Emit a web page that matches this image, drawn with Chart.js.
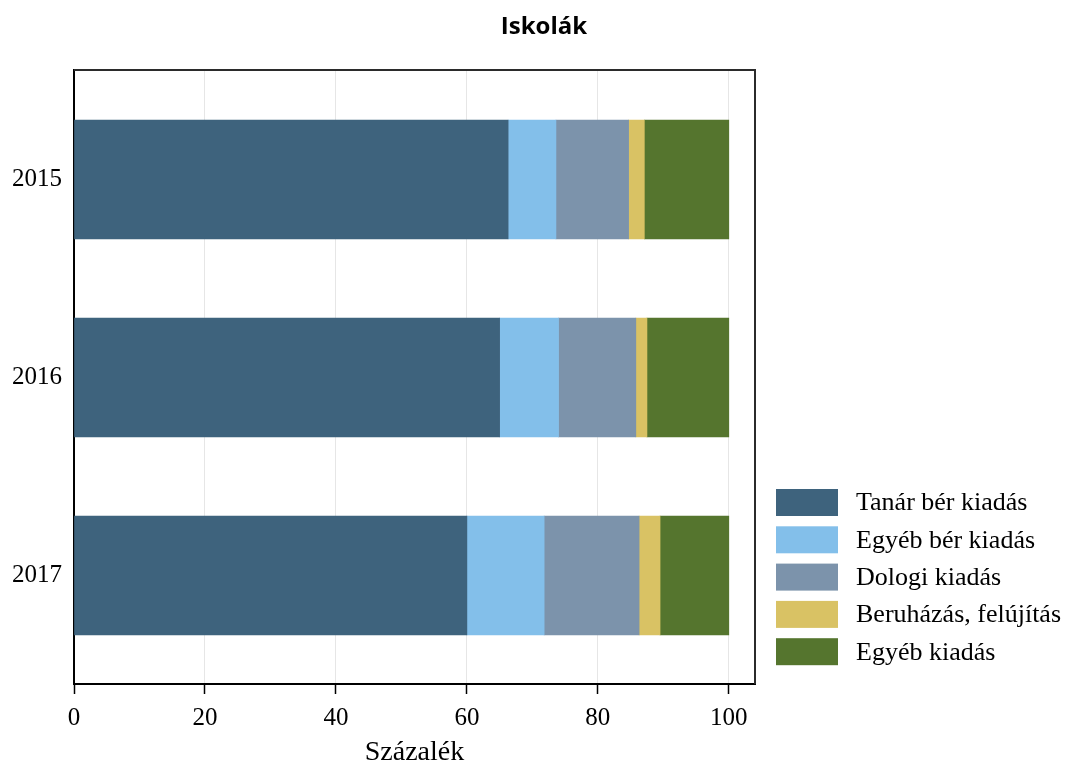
<!DOCTYPE html>
<html lang="hu">
<head>
<meta charset="utf-8">
<title>Iskolák</title>
<script src="https://cdn.jsdelivr.net/npm/chart.js@4.4.1/dist/chart.umd.min.js"></script>
<style>
  html, body { margin: 0; padding: 0; background: #fff; }
  canvas { display: block; }
</style>
</head>
<body>
<canvas id="chart" width="1070" height="767"></canvas>
<script>
// ======== Data ========
const years = ["2015", "2016", "2017"];
const xTicks = [0, 20, 40, 60, 80, 100];

const tanarBer = [66.3, 65.0, 60.0];
const egyebBer = [7.3, 9.0, 11.8];
const dologi = [11.1, 11.8, 14.5];
const beruhazas = [2.4, 1.7, 3.2];
const egyebKiadas = [12.9, 12.5, 10.5];

const seriesNames = [
  "Tanár bér kiadás",
  "Egyéb bér kiadás",
  "Dologi kiadás",
  "Beruházás, felújítás",
  "Egyéb kiadás",
];
const seriesColors = ["#3e637d", "#83bfea", "#7c93ab", "#d9c264", "#55752e"];
const seriesValues = [tanarBer, egyebBer, dologi, beruhazas, egyebKiadas];

const SERIF = "'Liberation Serif', 'Times New Roman', serif";

// ======== Plugins ========
// frame around plot area (top + right sides)
const framePlugin = {
  id: "frame",
  afterDraw(chart) {
    const { ctx, chartArea: a } = chart;
    ctx.save();
    ctx.strokeStyle = "#2b2b2b";
    ctx.lineWidth = 2;
    ctx.beginPath();
    ctx.moveTo(a.left, a.top);
    ctx.lineTo(a.right, a.top);
    ctx.lineTo(a.right, a.bottom);
    ctx.stroke();
    ctx.restore();
  },
};

// chart title
const titlePlugin = {
  id: "topTitle",
  afterDraw(chart) {
    const ctx = chart.ctx;
    ctx.save();
    ctx.font = "bold 24px 'Open Sans', 'Noto Sans', sans-serif";
    ctx.fillStyle = "#000";
    ctx.textAlign = "center";
    ctx.textBaseline = "alphabetic";
    ctx.fillText("Iskolák", 544, 34);
    ctx.restore();
  },
};

// legend at bottom right
const legendPlugin = {
  id: "sideLegend",
  afterDraw(chart) {
    const ctx = chart.ctx;
    const x = 776, y0 = 489, step = 37.3, bw = 62, bh = 27;
    ctx.save();
    ctx.font = "26px " + SERIF;
    ctx.textAlign = "left";
    ctx.textBaseline = "middle";
    chart.data.datasets.forEach((ds, i) => {
      const y = y0 + i * step;
      ctx.fillStyle = ds.backgroundColor;
      ctx.fillRect(x, y, bw, bh);
      ctx.fillStyle = "#000";
      ctx.fillText(ds.label, x + bw + 18, y + bh / 2 + 1);
    });
    ctx.restore();
  },
};

// ======== Chart ========
const datasets = seriesNames.map((name, s) => ({
  label: name,
  data: seriesValues[s].map((v, i) => ({ x: v, y: i })),
  backgroundColor: seriesColors[s],
  borderWidth: 0,
  barThickness: 119,
}));

new Chart(document.getElementById("chart").getContext("2d"), {
  type: "bar",
  data: { datasets },
  options: {
    indexAxis: "y",
    responsive: false,
    animation: false,
    layout: { padding: { top: 70, right: 315, left: 0, bottom: 0 } },
    plugins: {
      legend: { display: false },
      title: { display: false },
      tooltip: { enabled: false },
    },
    scales: {
      x: {
        type: "linear",
        stacked: true,
        min: 0,
        max: 104,
        afterBuildTicks: (scale) => {
          scale.ticks = xTicks.map((v) => ({ value: v }));
        },
        afterFit: (scale) => {
          scale.height = 83;
        },
        grid: {
          color: "#e6e6e6",
          lineWidth: 1,
          tickColor: "#000",
          tickLength: 10,
          tickWidth: 1.5,
        },
        border: { display: true, color: "#000", width: 2 },
        ticks: {
          color: "#000",
          padding: 9,
          maxRotation: 0,
          font: { family: SERIF, size: 25 },
        },
        title: {
          display: true,
          text: "Százalék",
          color: "#000",
          padding: { top: 0, bottom: 0 },
          font: { family: SERIF, size: 28, lineHeight: 1.0 },
        },
      },
      y: {
        type: "linear",
        stacked: true,
        reverse: true,
        offset: false,
        min: -0.553,
        max: 2.548,
        afterBuildTicks: (scale) => {
          scale.ticks = years.map((_, i) => ({ value: i }));
        },
        afterFit: (scale) => {
          scale.width = 74;
        },
        grid: { display: false, drawTicks: false, offset: false },
        border: { display: true, color: "#000", width: 2 },
        ticks: {
          color: "#000",
          padding: 12,
          autoSkip: false,
          callback: (v) => years[v],
          font: { family: SERIF, size: 25 },
        },
      },
    },
  },
  plugins: [framePlugin, titlePlugin, legendPlugin],
});
</script>
</body>
</html>
